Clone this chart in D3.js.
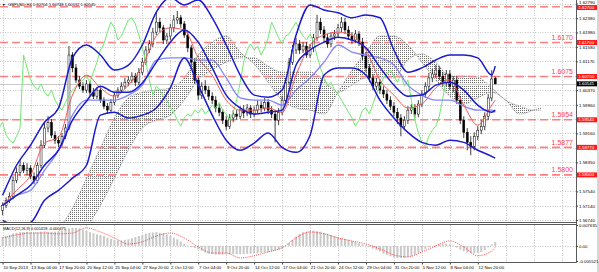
<!DOCTYPE html>
<html><head><meta charset="utf-8">
<script src="https://cdn.jsdelivr.net/npm/d3@7"></script>
<style>html,body{margin:0;padding:0;background:#fff;overflow:hidden}svg{display:block;font-family:"Liberation Sans",Arial,sans-serif}</style>
</head><body>
<svg id="c" width="599" height="272"></svg>
<script>
// ---------- DATA ----------
const opens = [1.5701,1.5715,1.5729,1.5740,1.5785,1.5807,1.5827,1.5813,1.5819,1.5796,
1.5785,1.5827,1.5883,1.5931,1.5947,1.5911,1.5897,1.5889,1.5908,1.5931,
1.6135,1.6099,1.6065,1.6048,1.6037,1.6054,1.6031,1.6020,1.6037,1.6009,
1.5992,1.5981,1.6003,1.6023,1.6037,1.6048,1.6059,1.6065,1.6076,1.6059,
1.6087,1.6115,1.6149,1.6166,1.6199,1.6227,1.6211,1.6177,1.6188,1.6211,
1.6233,1.6239,1.6222,1.6191,1.6155,1.6115,1.6065,1.6023,1.6048,1.6037,
1.6020,1.6009,1.5987,1.5975,1.5953,1.5936,1.5959,1.5970,1.5964,1.5981,
1.5973,1.5987,1.5970,1.5981,1.5995,1.5987,1.6003,1.5981,1.5970,1.5953,
1.5975,1.6009,1.6059,1.6115,1.6149,1.6166,1.6149,1.6160,1.6135,1.6155,
1.6183,1.6227,1.6205,1.6183,1.6166,1.6188,1.6194,1.6211,1.6227,1.6205,
1.6188,1.6177,1.6194,1.6171,1.6132,1.6099,1.6071,1.6048,1.6059,1.6037,
1.6026,1.6009,1.5992,1.5975,1.5959,1.5936,1.5953,1.5981,1.5987,1.5970,
1.5998,1.6026,1.6048,1.6071,1.6082,1.6093,1.6076,1.6059,1.6082,1.6048,
1.6065,1.6009,1.5953,1.5919,1.5891,1.5880,1.5908,1.5925,1.5936,1.5964,
1.6015,1.60704];
const highs = [1.5723,1.5737,1.5751,1.5796,1.5821,1.5841,1.5835,1.5833,1.5827,1.5807,
1.5835,1.5897,1.5947,1.5964,1.5956,1.5922,1.5908,1.5917,1.5942,1.6160,
1.6143,1.6110,1.6076,1.6059,1.6065,1.6062,1.6043,1.6045,1.6045,1.6017,
1.6001,1.6012,1.6031,1.6045,1.6059,1.6071,1.6076,1.6087,1.6085,1.6099,
1.6127,1.6160,1.6177,1.6211,1.6253,1.6239,1.6219,1.6197,1.6222,1.6247,
1.6258,1.6247,1.6230,1.6199,1.6163,1.6127,1.6073,1.6059,1.6065,1.6048,
1.6031,1.6020,1.5998,1.5984,1.5964,1.5970,1.5981,1.5981,1.5992,1.5995,
1.5998,1.5995,1.5992,1.6009,1.6006,1.6015,1.6012,1.5992,1.5981,1.5987,
1.6020,1.6071,1.6127,1.6163,1.6183,1.6177,1.6171,1.6171,1.6166,1.6194,
1.6247,1.6239,1.6216,1.6194,1.6199,1.6205,1.6222,1.6241,1.6239,1.6216,
1.6199,1.6205,1.6202,1.6183,1.6143,1.6110,1.6082,1.6071,1.6068,1.6048,
1.6037,1.6020,1.6003,1.5987,1.5970,1.5964,1.5992,1.5998,1.5998,1.6009,
1.6037,1.6059,1.6085,1.6096,1.6107,1.6104,1.6087,1.6093,1.6093,1.6076,
1.6076,1.6020,1.5964,1.5931,1.5908,1.5919,1.5936,1.5953,1.5975,1.6026,
1.6093,1.60748];
const lows = [1.5687,1.5707,1.5721,1.5732,1.5777,1.5796,1.5805,1.5799,1.5788,1.5774,
1.5777,1.5819,1.5875,1.5919,1.5903,1.5886,1.5877,1.5880,1.5900,1.5925,
1.6087,1.6057,1.6040,1.6029,1.6029,1.6020,1.6012,1.6012,1.6001,1.5984,
1.5970,1.5973,1.5995,1.6015,1.6029,1.6040,1.6048,1.6057,1.6048,1.6051,
1.6079,1.6107,1.6141,1.6157,1.6191,1.6199,1.6166,1.6166,1.6177,1.6199,
1.6222,1.6211,1.6183,1.6143,1.6104,1.6054,1.6009,1.6012,1.6026,1.6009,
1.5998,1.5975,1.5964,1.5942,1.5925,1.5928,1.5947,1.5953,1.5956,1.5959,
1.5964,1.5959,1.5961,1.5973,1.5975,1.5978,1.5970,1.5959,1.5891,1.5939,
1.5967,1.6001,1.6051,1.6107,1.6138,1.6138,1.6141,1.6127,1.6127,1.6143,
1.6174,1.6194,1.6171,1.6155,1.6157,1.6177,1.6183,1.6199,1.6194,1.6177,
1.6166,1.6169,1.6160,1.6121,1.6087,1.6059,1.6037,1.6037,1.6026,1.6015,
1.5998,1.5981,1.5964,1.5942,1.5908,1.5925,1.5942,1.5970,1.5959,1.5961,
1.5989,1.6015,1.6037,1.6059,1.6071,1.6065,1.6048,1.6048,1.6037,1.6031,
1.5998,1.5942,1.5903,1.5869,1.5855,1.5869,1.5897,1.5914,1.5925,1.5953,
1.6006,1.60532];
const closes = [1.5715,1.5729,1.5740,1.5785,1.5807,1.5827,1.5813,1.5819,1.5796,1.5785,
1.5827,1.5883,1.5931,1.5947,1.5911,1.5897,1.5889,1.5908,1.5931,1.6135,
1.6099,1.6065,1.6048,1.6037,1.6054,1.6031,1.6020,1.6037,1.6009,1.5992,
1.5981,1.6003,1.6023,1.6037,1.6048,1.6059,1.6065,1.6076,1.6059,1.6087,
1.6115,1.6149,1.6166,1.6199,1.6227,1.6211,1.6177,1.6188,1.6211,1.6233,
1.6239,1.6222,1.6191,1.6155,1.6115,1.6065,1.6023,1.6048,1.6037,1.6020,
1.6009,1.5987,1.5975,1.5953,1.5936,1.5959,1.5970,1.5964,1.5981,1.5973,
1.5987,1.5970,1.5981,1.5995,1.5987,1.6003,1.5981,1.5970,1.5953,1.5975,
1.6009,1.6059,1.6115,1.6149,1.6166,1.6149,1.6160,1.6135,1.6155,1.6183,
1.6227,1.6205,1.6183,1.6166,1.6188,1.6194,1.6211,1.6227,1.6205,1.6188,
1.6177,1.6194,1.6171,1.6132,1.6099,1.6071,1.6048,1.6059,1.6037,1.6026,
1.6009,1.5992,1.5975,1.5959,1.5936,1.5953,1.5981,1.5987,1.5970,1.5998,
1.6026,1.6048,1.6071,1.6082,1.6093,1.6076,1.6059,1.6082,1.6048,1.6065,
1.6009,1.5953,1.5919,1.5891,1.5880,1.5908,1.5925,1.5936,1.5964,1.6015,
1.6068,1.60545];

// indicator samples (bar index every 4 bars + last bar)
const sampleIdx = [0,4,8,12,16,20,24,28,32,36,40,44,48,52,56,60,64,68,72,76,80,84,88,92,96,100,104,108,112,116,120,124,128,132,136,140,141];
const bbUpper = [1.5743,1.5827,1.5883,1.5947,1.5987,1.6127,1.6163,1.6135,1.6093,1.6107,1.6163,1.6255,1.6295,1.6275,1.6289,1.6239,1.6163,1.6079,1.6023,1.6017,1.6037,1.6191,1.6275,1.6261,1.6253,1.6239,1.6247,1.6239,1.6149,1.6087,1.6099,1.6121,1.6135,1.6135,1.6127,1.6079,1.6104];
const bbMiddle = [1.5715,1.5743,1.5771,1.5827,1.5869,1.5953,1.6006,1.6048,1.6031,1.6031,1.6057,1.6115,1.6171,1.6205,1.6171,1.6099,1.6023,1.5987,1.5970,1.5975,1.5981,1.6107,1.6149,1.6171,1.6185,1.6177,1.6155,1.6101,1.6051,1.6020,1.6023,1.6051,1.6059,1.6037,1.5995,1.5975,1.5981];
const bbLower = [1.5673,1.5659,1.5667,1.5729,1.5757,1.5791,1.5827,1.5967,1.5975,1.5959,1.5967,1.5987,1.6043,1.6127,1.6051,1.5967,1.5897,1.5869,1.5889,1.5917,1.5877,1.5863,1.5911,1.6079,1.6099,1.6099,1.6079,1.6009,1.5959,1.5919,1.5891,1.5883,1.5897,1.5891,1.5869,1.5852,1.5847];
const tenkan = [1.5715,1.5757,1.5799,1.5889,1.5905,1.6023,1.6079,1.6043,1.6020,1.6051,1.6104,1.6188,1.6211,1.6205,1.6127,1.6079,1.6009,1.5981,1.5981,1.5987,1.5975,1.6079,1.6163,1.6191,1.6199,1.6191,1.6149,1.6065,1.6023,1.5987,1.5998,1.6043,1.6065,1.5995,1.5939,1.5995,1.6009];
const kijun = [1.5715,1.5743,1.5757,1.5813,1.5869,1.5967,1.6009,1.6009,1.6009,1.6023,1.6051,1.6121,1.6127,1.6127,1.6121,1.6121,1.6071,1.6015,1.6009,1.6009,1.5995,1.6037,1.6071,1.6115,1.6163,1.6143,1.6135,1.6127,1.6107,1.6051,1.6023,1.6009,1.6009,1.5992,1.5981,1.5981,1.5975];
const cloudIdx = [0,4,8,12,16,20,24,28,32,36,40,44,48,52,56,60,64,68,72,76,80,84,88,92,96,100,104,108,112,116,120,124,128,132,136,140,144,148,152,154];
const senkouA = [1.5555,1.5575,1.5603,1.5631,1.5651,1.5707,1.5791,1.5875,1.5959,1.6015,1.6031,1.6037,1.6043,1.6071,1.6135,1.6171,1.6188,1.6143,1.6110,1.6059,1.6009,1.5987,1.5981,1.5970,1.6031,1.6093,1.6143,1.6188,1.6188,1.6163,1.6115,1.6065,1.6020,1.5998,1.6015,1.6031,1.6009,1.5970,1.5981,1.5987];
const senkouB = [1.5449,1.5463,1.5491,1.5519,1.5547,1.5589,1.5651,1.5715,1.5791,1.5869,1.5931,1.5953,1.5967,1.6009,1.6065,1.6093,1.6115,1.6127,1.6127,1.6104,1.6087,1.6087,1.6087,1.6065,1.6031,1.6051,1.6071,1.6071,1.6071,1.6121,1.6138,1.6115,1.6076,1.6076,1.6073,1.6043,1.6009,1.5992,1.5981,1.5981];
const chikouShift = 13;

const macdMain = [0.0033,0.0036,0.0040,
0.0045,0.0048,0.0050,0.0051,0.0051,0.0050,0.0049,0.0050,0.0052,0.0053,0.0052,0.0051,
0.0052,0.0054,0.0056,0.0060,0.0064,0.0066,0.0066,0.0064,0.0060,
0.0055,0.0050,0.0046,0.0042,0.0040,0.0036,0.0030,0.0026,
0.0022,0.0020,0.0020,0.0022,0.0024,0.0028,0.0032,0.0036,
0.0040,0.0044,0.0047,0.0049,0.0050,0.0048,0.0046,0.0042,
0.0036,0.0030,0.0024,0.0016,
0.0008,0.0002,-0.0004,-0.0008,
-0.0012,-0.0018,-0.0024,-0.0028,-0.0030,-0.0032,-0.0032,-0.0032,-0.0031,-0.0030,-0.0030,-0.0030,-0.0030,-0.0030,-0.0029,-0.0028,-0.0027,-0.0026,-0.0025,-0.0024,-0.0022,-0.0020,-0.0017,-0.0014,-0.0010,
-0.0002,0.0010,0.0022,0.0034,0.0044,
0.0050,0.0052,0.0054,0.0055,0.0054,0.0052,0.0048,0.0045,0.0040,
0.0036,0.0032,0.0028,0.0025,0.0022,0.0018,0.0014,0.0010,0.0006,0.0002,
-0.0004,-0.0010,-0.0015,-0.0020,
-0.0028,-0.0033,-0.0038,-0.0042,-0.0044,-0.0045,-0.0044,-0.0042,
-0.0038,-0.0032,-0.0025,-0.0018,-0.0011,-0.0005,0.0000,
0.0003,0.0006,0.0008,0.0008,0.0006,0.0002,
-0.0006,-0.0014,-0.0020,-0.0024,-0.0026,-0.0027,-0.0026,-0.0022,-0.0016,
-0.0006,0.0005,0.001418];
const macdSignal = [0.0029,0.0040,0.0047,0.0047,0.0044,0.0047,0.0066,0.0051,0.0029,0.0007,0.0015,0.0036,0.0047,0.0029,-0.0004,-0.0026,-0.0026,-0.0044,-0.0036,-0.0022,-0.0007,0.0029,0.0051,0.0044,0.0029,0.0018,0.0007,-0.0011,-0.0033,-0.0040,-0.0022,0.0000,0.0018,-0.0004,-0.0036,-0.0018,-0.000475];

const priceTicks = [1.62790,1.62380,1.61980,1.61580,1.61170,1.60770,1.60370,1.59960,1.59560,1.59160,1.58750,1.58350,1.57950,1.57540,1.57140,1.56740];
const levelLines = [1.6270,1.6170,1.6075,1.5954,1.5877,1.5800];
const levelTexts = ["","1.6170","1.6075","1.5954","1.5877","1.5800"];
const bidPrice = 1.60545;
const macdTicks = [0.007635,0,-0.005521];
const xTickIdx = [0,8,16,24,32,40,48,56,64,72,80,88,96,104,112,120,128,136];
const xLabels = ["10 Sep 2013","13 Sep 04:00","17 Sep 20:00","20 Sep 12:00","25 Sep 04:00","27 Sep 20:00","2 Oct 12:00","7 Oct 04:00","9 Oct 20:00","14 Oct 12:00","17 Oct 04:00","21 Oct 20:00","24 Oct 12:00","29 Oct 04:00","31 Oct 20:00","5 Nov 12:00","8 Nov 04:00","12 Nov 20:00"];
const gridIdx = [0,8,16,24,32,40,48,56,64,72,80,88,96,104,112,120,128,136,144,152,160];
const headerText = "GBPUSD,H4  1.60704 1.60748 1.60532 1.60545";
const macdText = "MACD(12,26,9) 0.001418 -0.000475";

// ---------- CHART ----------
const svg = d3.select('#c');
const R = 576.5;
const defs = svg.append('defs');
defs.append('clipPath').attr('id','cm').append('rect').attr('x',0).attr('y',0).attr('width',576).attr('height',222);
defs.append('clipPath').attr('id','cd').append('rect').attr('x',0).attr('y',224.5).attr('width',576).attr('height',37.5);
const pat = defs.append('pattern').attr('id','dots').attr('width',2).attr('height',2).attr('patternUnits','userSpaceOnUse');
pat.append('rect').attr('width',1).attr('height',1).attr('fill','#707070');

const x = d3.scaleLinear().domain([0,160]).range([2.6, 561.6]);
const y = d3.scaleLinear().domain([1.5674,1.6279]).range([220,3.5]);
const ym = d3.scaleLinear().domain([-0.005521,0.007635]).range([261,225]);
const px = v => Math.round(v) + 0.5;

svg.append('rect').attr('width',599).attr('height',272).attr('fill','#fff');

// grid
const grid = svg.append('g').attr('stroke','#b8b8b8').attr('stroke-width',0.8).attr('stroke-dasharray','1,1.5');
gridIdx.forEach(i => {
  grid.append('line').attr('x1',px(x(i))).attr('x2',px(x(i))).attr('y1',0).attr('y2',222);
  grid.append('line').attr('x1',px(x(i))).attr('x2',px(x(i))).attr('y1',225).attr('y2',262);
});
priceTicks.forEach(v => grid.append('line').attr('x1',0).attr('x2',576).attr('y1',px(y(v))).attr('y2',px(y(v))));
grid.append('line').attr('x1',0).attr('x2',576).attr('y1',px(ym(0))).attr('y2',px(ym(0)));

const main = svg.append('g').attr('clip-path','url(#cm)');

// cloud
const cloud = cloudIdx.map((d,k)=>({i:d,a:senkouA[k],b:senkouB[k]}));
main.append('path').datum(cloud)
  .attr('d', d3.area().x(d=>x(d.i)).y0(d=>y(d.b)).y1(d=>y(d.a)).curve(d3.curveMonotoneX))
  .attr('fill','url(#dots)');
['a','b'].forEach(k => main.append('path').datum(cloud)
  .attr('d', d3.line().x(d=>x(d.i)).y(d=>y(d[k])).curve(d3.curveMonotoneX))
  .attr('fill','none').attr('stroke','#666').attr('stroke-width',0.7).attr('stroke-dasharray','1,1'));

// horizontal level lines
levelLines.forEach(v => main.append('line').attr('x1',0).attr('x2',576)
  .attr('y1',y(v)).attr('y2',y(v)).attr('stroke','#ff8080').attr('stroke-width',1.6).attr('stroke-dasharray','8,4'));
main.append('line').attr('x1',0).attr('x2',576).attr('y1',px(y(bidPrice))).attr('y2',px(y(bidPrice)))
  .attr('stroke','#c8c8c8').attr('stroke-width',1);

// candles
const bars = d3.range(closes.length).map(i=>({i,o:opens[i],h:highs[i],l:lows[i],c:closes[i]}));
const cg = main.append('g');
cg.selectAll('line.w').data(bars).join('line')
  .attr('x1',d=>x(d.i)).attr('x2',d=>x(d.i)).attr('y1',d=>y(d.h)).attr('y2',d=>y(d.l))
  .attr('stroke','#000').attr('stroke-width',0.75);
cg.selectAll('rect').data(bars).join('rect')
  .attr('x',d=>x(d.i)-1).attr('width',2)
  .attr('y',d=>y(Math.max(d.o,d.c))).attr('height',d=>Math.max(0.8,Math.abs(y(d.o)-y(d.c))))
  .attr('fill',d=>d.c>=d.o?'#fff':'#000').attr('stroke','#000').attr('stroke-width',0.5);

// indicator lines
const mk = arr => sampleIdx.map((i,k)=>({i,v:arr[k]}));
const ln = d3.line().x(d=>x(d.i)).y(d=>y(d.v)).curve(d3.curveMonotoneX);
main.append('path').datum(closes.map((v,i)=>({i:i-chikouShift,v})))
  .attr('d', d3.line().x(d=>x(d.i)).y(d=>y(d.v))).attr('fill','none').attr('stroke','#72e872').attr('stroke-width',1);
main.append('path').datum(mk(kijun)).attr('d',ln).attr('fill','none').attr('stroke','#8484ff').attr('stroke-width',1.3);
main.append('path').datum(mk(tenkan)).attr('d',ln).attr('fill','none').attr('stroke','#f05a5a').attr('stroke-width',1);
[bbUpper,bbMiddle,bbLower].forEach(a => main.append('path').datum(mk(a)).attr('d',ln)
  .attr('fill','none').attr('stroke','#1a1ad0').attr('stroke-width',1.5));

// level texts
levelLines.forEach((v,k) => { if(levelTexts[k]) main.append('text').attr('x',573).attr('y',y(v)-2.8)
  .attr('text-anchor','end').attr('font-size',7).attr('fill','#ff4040').text(levelTexts[k]); });

// header
svg.append('text').attr('x',2).attr('y',5.6).attr('font-size',3.6).attr('fill','#000').text('\u25BC');
svg.append('text').attr('x',8).attr('y',5.6).attr('font-size',4.1).attr('fill','#000').text(headerText);

// MACD panel
const md = svg.append('g').attr('clip-path','url(#cd)');
md.selectAll('rect').data(macdMain.map((v,i)=>({i,v}))).join('rect')
  .attr('x',d=>x(d.i)-1).attr('width',2)
  .attr('y',d=>Math.min(ym(0),ym(d.v))).attr('height',d=>Math.abs(ym(d.v)-ym(0)))
  .attr('fill','#c8c8c8');
md.append('path').datum(sampleIdx.map((i,k)=>({i,v:macdSignal[k]})))
  .attr('d', d3.line().x(d=>x(d.i)).y(d=>ym(d.v)).curve(d3.curveMonotoneX))
  .attr('fill','none').attr('stroke','#ff3030').attr('stroke-width',0.9).attr('stroke-dasharray','1,1.2');
svg.append('text').attr('x',3).attr('y',229.8).attr('font-size',3.9).attr('fill','#000').text(macdText);

// frames
const fr = svg.append('g').attr('stroke','#5a5a5a').attr('stroke-width',1);
fr.append('line').attr('x1',0).attr('x2',R).attr('y1',222.5).attr('y2',222.5);
fr.append('line').attr('x1',0).attr('x2',R).attr('y1',224.5).attr('y2',224.5);
fr.append('line').attr('x1',0).attr('x2',R).attr('y1',262.5).attr('y2',262.5);
fr.append('line').attr('x1',R).attr('x2',R).attr('y1',0).attr('y2',262.5);
svg.append('rect').attr('x',597).attr('y',0).attr('width',2).attr('height',272).attr('fill','#d6d6d6');

// right price axis (labels hidden behind a boxed label in the reference are not drawn)
const boxed = levelLines.concat([bidPrice]);
const visibleTicks = priceTicks.filter(v => v === priceTicks[0] || boxed.every(b => Math.abs(y(b) - y(v)) > 3.2));
const ay = svg.append('g').attr('transform',`translate(${R},0)`)
  .call(d3.axisRight(y).tickValues(visibleTicks).tickSize(1.5).tickPadding(1).tickFormat(d=>d.toFixed(5)));
ay.select('.domain').remove();
ay.selectAll('text').attr('font-size',4.4).attr('font-family','"Liberation Sans",Arial,sans-serif').attr('fill','#000');
ay.selectAll('.tick').filter(d => d === priceTicks[0]).select('text').attr('dy','0.1em');
ay.selectAll('line').attr('stroke','#444');

// boxed labels
function box(v, fill, shift){
  const yy = y(v) + shift;
  svg.append('rect').attr('x',577).attr('y',yy-2.5).attr('width',20).attr('height',5).attr('fill',fill);
  svg.append('text').attr('x',578.5).attr('y',yy+1.5).attr('font-size',4.3).attr('fill','#fff').text(v.toFixed(5));
}
levelLines.forEach((v,k) => box(v,'#ff1a1a', k === 0 ? 0.8 : 0));
box(bidPrice,'#000',0);

// MACD axis
const am = svg.append('g').attr('transform',`translate(${R},0)`)
  .call(d3.axisRight(ym).tickValues(macdTicks).tickSize(1.5).tickPadding(1).tickFormat(d=>d===0?'0.00':d.toFixed(6)));
am.select('.domain').remove();
am.selectAll('text').attr('font-size',4.3).attr('font-family','"Liberation Sans",Arial,sans-serif').attr('fill','#000');
am.selectAll('line').attr('stroke','#444');

// time axis
const ax = svg.append('g').attr('transform','translate(0,262.5)')
  .call(d3.axisBottom(x).tickValues(xTickIdx).tickSize(2).tickPadding(1.5).tickFormat((d,i)=>xLabels[i]));
ax.select('.domain').remove();
ax.selectAll('text').attr('font-size',4.3).attr('font-family','"Liberation Sans",Arial,sans-serif')
  .attr('text-anchor','start').attr('dx',0.3).attr('fill','#000');
ax.selectAll('line').attr('stroke','#444');
</script>
</body></html>
